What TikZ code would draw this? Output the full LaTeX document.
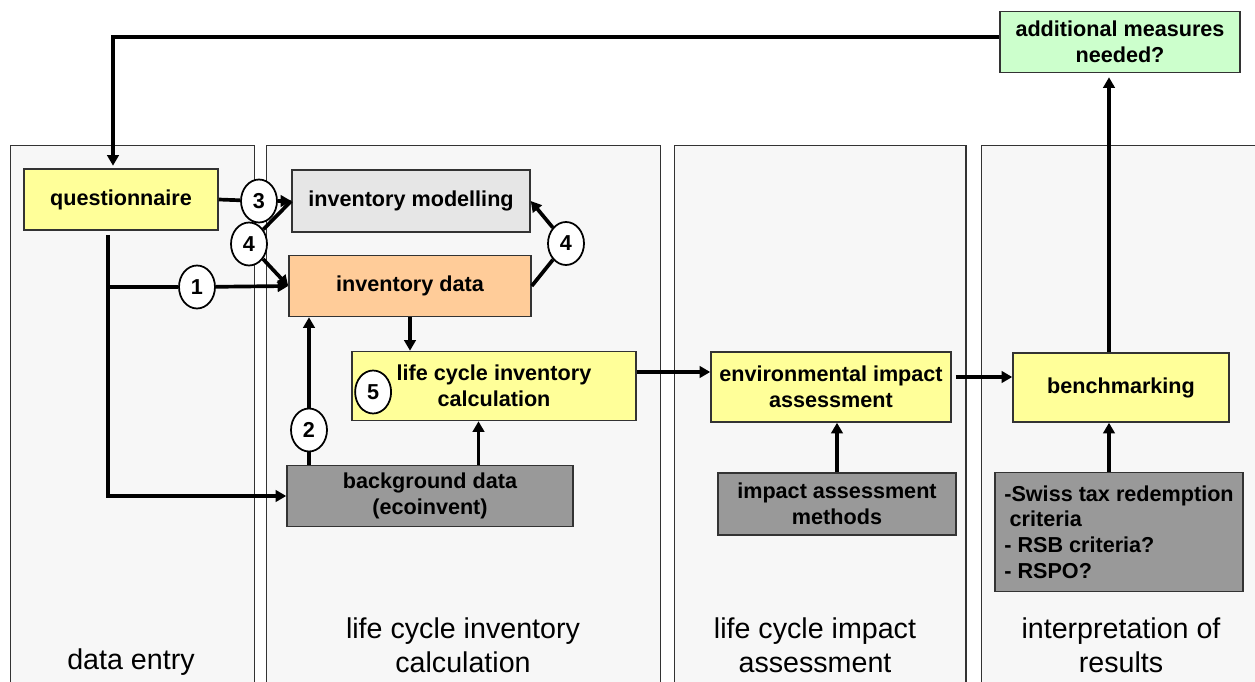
\documentclass[tikz,border=0pt]{standalone}
\usepackage{fontspec}
\setmainfont{Liberation Sans}
\usepackage{xcolor}
\definecolor{colorPanel}{HTML}{F7F7F7}
\definecolor{colorInput}{HTML}{FFFF99}
\definecolor{colorData}{HTML}{FFCC99}
\definecolor{colorModel}{HTML}{E6E6E6}
\definecolor{colorBack}{HTML}{999999}
\definecolor{colorMeasure}{HTML}{CCFFCC}
\definecolor{colorFrame}{HTML}{333333}
\usepackage{tikz}
\usetikzlibrary{arrows.meta, positioning, shapes.geometric}

\begin{document}
\begin{tikzpicture}[x=0.02cm, y=-0.02cm, >={Triangle[length=6pt,width=6.5pt]},
  panel/.style={draw=colorFrame, fill=colorPanel, line width=0.7pt, anchor=north west, minimum height=12cm, inner sep=0pt},
  box/.style={draw=colorFrame, line width=0.9pt, align=center, inner sep=0pt, font=\fontsize{12.3}{14.6}\selectfont\bfseries},
  num/.style={ellipse, draw=black, fill=white, line width=1pt, minimum width=0.72cm, minimum height=0.86cm, inner sep=0pt, font=\fontsize{12.3}{14.6}\selectfont\bfseries},
  phase/.style={align=center, font=\fontsize{16.3}{19.3}\selectfont},
  flow/.style={line width=2.1pt}]
\clip (0,0) rectangle (1255,682);
\node[panel, minimum width=4.88cm] (p1) at (10,145) {};
\node[panel, minimum width=7.88cm] (p2) at (266,145) {};
\node[panel, minimum width=5.84cm] (p3) at (673.5,145) {};
\node[panel, minimum width=6.2cm] (p4) at (981,145) {};
\node[phase] (l1) at (131,662) {data entry};
\node[phase] (l2) at (463,645) {life cycle inventory\\calculation};
\node[phase] (l3) at (815,645) {life cycle impact\\assessment};
\node[phase] (l4) at (1121,645) {interpretation of\\results};
\node[box, fill=colorMeasure, minimum width=4.8cm, minimum height=1.22cm] (addmeas) at (1120,42) {additional measures\\needed?};
\node[box, fill=colorInput, minimum width=3.88cm, minimum height=1.22cm] (quest) at (121,199.5) {questionnaire};
\node[box, fill=colorModel, minimum width=4.76cm, minimum height=1.24cm] (model) at (411,201) {inventory modelling};
\node[box, fill=colorData, minimum width=4.84cm, minimum height=1.22cm] (invdata) at (410,286) {inventory data};
\node[box, fill=colorInput, minimum width=5.68cm, minimum height=1.38cm] (lci) at (494,386) {life cycle inventory\\calculation};
\node[box, fill=colorBack, minimum width=5.72cm, minimum height=1.22cm] (bgdata) at (430,496) {background data\\(ecoinvent)};
\node[box, fill=colorInput, minimum width=4.8cm, minimum height=1.4cm] (eia) at (831,387) {environmental impact\\assessment};
\node[box, fill=colorBack, minimum width=4.76cm, minimum height=1.24cm] (methods) at (837,504) {impact assessment\\methods};
\node[box, fill=colorInput, minimum width=4.32cm, minimum height=1.38cm] (bench) at (1121,387.5) {benchmarking};
\node[box, fill=colorBack, minimum width=4.96cm, minimum height=2.38cm, align=left] (criteria) at (1119,532) {-Swiss tax redemption\\\hspace{0.25em}criteria\\- RSB criteria?\\- RSPO?};
\node[num] (c1) at (197,287) {1};
\node[num] (c2) at (309,430) {2};
\node[num] (c3) at (259,201) {3};
\node[num] (c4a) at (249,244) {4};
\node[num] (c4b) at (566,243.5) {4};
\node[num, right=0.06cm of lci.west, yshift=-0.12cm] (c5) {5};
\coordinate (top) at (113,37);
\coordinate (qs) at (108,235);
\coordinate (qb) at (108,287);
\coordinate (lciin) at ([xshift=-0.31cm]lci.south);
\coordinate (bx) at ([xshift=-0.24cm]bench.center);
\draw[flow, ->] (addmeas.west |- top) -- (top) -- ([yshift=0.05cm]top |- quest.north);
\draw[flow, ->] (qs) |- (bgdata.west);
\draw[flow] (qb) -- (c1);
\draw[flow, ->] (c1) -- (invdata.west);
\draw[flow] (quest.east) -- (c3);
\draw[flow, ->] (c3) -- (model.west);
\draw[flow] (c4a) -- (model.west);
\draw[flow, ->] (c4a) -- (invdata.west);
\draw[flow] (invdata.east) -- (c4b);
\draw[flow, ->] (c4b) -- (model.east);
\draw[flow] (bgdata.north -| c2) -- (c2);
\draw[flow, ->] (c2) -- (c2 |- invdata.south);
\draw[flow, ->] (invdata.south) -- (invdata.south |- lci.north);
\draw[flow, ->] (bgdata.north -| lciin) -- (lciin);
\draw[flow, ->] ([yshift=0.28cm]lci.east) -- ([yshift=0.28cm]lci.east -| eia.west);
\draw[flow, ->] ([shift={(0.08cm,0.2cm)}]eia.east) -- ([yshift=0.2cm]eia.east -| bench.west);
\draw[flow, ->] (methods.north) -- (methods.north |- eia.south);
\draw[flow, ->] (criteria.north -| bx) -- (bench.south -| bx);
\draw[flow, ->] (bench.north -| bx) -- ([yshift=-0.08cm]addmeas.south -| bx);
\end{tikzpicture}
\end{document}
